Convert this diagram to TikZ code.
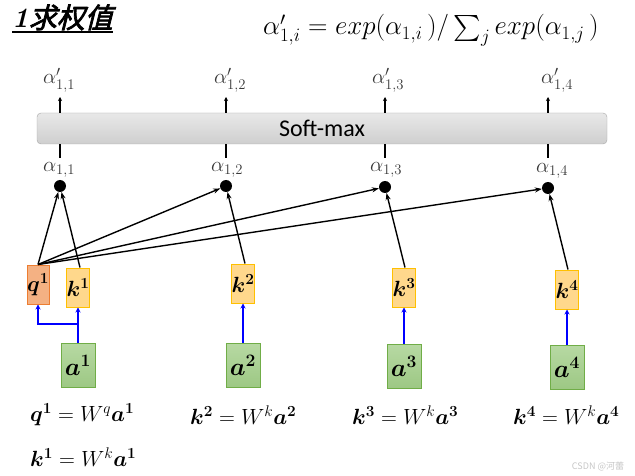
\RequirePackage{fix-cm}
\documentclass[tikz,border=0pt]{standalone}
\usepackage{amsmath}
\usepackage{bm}
\usepackage{fontspec}
\newfontfamily\cjk[FakeSlant=0.25,FakeBold=2.5]{Noto Sans CJK SC}
\newfontfamily\cjkplain{Noto Sans CJK SC}
\newfontfamily\calib{Carlito}
\usetikzlibrary{arrows.meta}
\definecolor{qfill}{HTML}{F4B183}
\definecolor{qdraw}{HTML}{ED7D31}
\definecolor{kfill}{HTML}{FFD88C}
\definecolor{kdraw}{HTML}{FFC000}
\definecolor{afilltop}{HTML}{B7D9A3}
\definecolor{afillbot}{HTML}{9DC884}
\definecolor{adraw}{HTML}{70AD47}
\definecolor{labgray}{HTML}{383838}
\newcommand{\bigsumj}{\mathop{\vcenter{\hbox{\resizebox*{!}{26pt}{$\textstyle\sum$}}}}\nolimits_j}
\begin{document}
\begin{tikzpicture}[x=1pt,y=-1pt,
  qbox/.style={draw=qdraw,fill=qfill,line width=1pt,minimum width=22pt,minimum height=39pt,inner sep=0pt,font=\fontsize{22}{22}\selectfont},
  kbox/.style={draw=kdraw,fill=kfill,line width=1pt,minimum width=21pt,minimum height=39pt,inner sep=0pt,font=\fontsize{22}{22}\selectfont},
  abox/.style={draw=adraw,top color=afilltop,bottom color=afillbot,line width=1pt,minimum width=34pt,minimum height=44pt,inner sep=0pt,font=\fontsize{25}{25}\selectfont},
  dot/.style={circle,fill=black,minimum size=12pt,inner sep=0pt},
  lab/.style={text=labgray,font=\fontsize{21}{21}\selectfont,inner sep=1pt},
  arr/.style={line width=1.4pt,-{Stealth[length=7pt,width=5pt]}},
  barr/.style={blue,line width=2.2pt,-{Stealth[length=5pt,width=5pt]}},
  sarr/.style={line width=1.2pt,-{Stealth[length=4pt,width=4pt]}},
  eq/.style={font=\fontsize{22}{22}\selectfont,anchor=west,inner sep=0pt}
]
\useasboundingbox (0,0) rectangle (635,476);

% title
\node[anchor=base west,inner sep=0pt,font=\fontsize{28}{28}\selectfont] (title) at (12,28) {\textbf{\textit{1}}\cjk 求权值};
\draw[line width=1.3pt] (title.south west |- 0,32) -- (title.south east |- 0,32);

% formula
\node[anchor=base west,inner sep=0pt,font=\fontsize{27}{27}\selectfont] (formula) at (263,35)
  {$\alpha'_{1,i}=exp(\alpha_{1,i}\,)/\bigsumj exp(\alpha_{1,j}\,)$};

% softmax bar
\node[draw=gray!70,top color=gray!18,bottom color=gray!38,rounded corners=4pt,
      minimum width=570pt,minimum height=31pt,inner sep=0pt,font=\fontsize{24}{24}\calib] (bar) at (322,128.5) {Soft-max};

% dots
\node[dot] (d1) at (60,186) {};
\node[dot] (d2) at (226,186) {};
\node[dot] (d3) at (385,187) {};
\node[dot] (d4) at (548,188) {};

% alpha labels
\node[lab] (l1) at (59,170) {$\alpha_{1,1}$};
\node[lab] (l2) at (227,170) {$\alpha_{1,2}$};
\node[lab] (l3) at (386,170) {$\alpha_{1,3}$};
\node[lab] (l4) at (552,171) {$\alpha_{1,4}$};

% top labels
\node[lab] (t1) at (59,80) {$\alpha'_{1,1}$};
\node[lab] (t2) at (230,80) {$\alpha'_{1,2}$};
\node[lab] (t3) at (388,80) {$\alpha'_{1,3}$};
\node[lab] (t4) at (557,80) {$\alpha'_{1,4}$};

\foreach \i in {1,2,3,4}{
  \draw[line width=1.2pt] (d\i |- bar.south) -- (d\i |- 0,158);
  \draw[sarr] (d\i |- bar.north) -- (d\i |- 0,97);
}

% q, k boxes
\node[qbox] (q1) at (38,284.5) {$\bm{q^1}$};
\node[kbox] (k1) at (78,287.5) {$\bm{k^1}$};
\node[kbox] (k2) at (243,283.5) {$\bm{k^2}$};
\node[kbox] (k3) at (404,287.5) {$\bm{k^3}$};
\node[kbox] (k4) at (567,289.5) {$\bm{k^4}$};

% a boxes
\node[abox] (a1) at (78,365) {$\bm{a^1}$};
\node[abox] (a2) at (243,365) {$\bm{a^2}$};
\node[abox] (a3) at (404,366) {$\bm{a^3}$};
\node[abox] (a4) at (567,367) {$\bm{a^4}$};

% blue arrows
\coordinate (br) at (78,324);
\draw[barr] (a1.north) -- (k1.south);
\draw[barr] (br) -| (q1.south);
\draw[barr] (a2.north) -- (k2.south);
\draw[barr] (a3.north) -- (k3.south);
\draw[barr] (a4.north) -- (k4.south);

% black arrows
\draw[arr] (q1.north) -- (d1);
\draw[arr] (q1.north) -- (d2);
\draw[arr] (q1.north) -- (d3);
\draw[arr] (q1.north) -- (d4);
\draw[arr] ([xshift=2pt]k1.north) -- (d1);
\draw[arr] ([xshift=2pt]k2.north) -- (d2);
\draw[arr] ([xshift=1pt]k3.north) -- (d3);
\draw[arr] ([xshift=1pt]k4.north) -- (d4);

% equations
\node[eq] (e1) at (30,415) {$\bm{q^1}=W^q\bm{a^1}$};
\node[eq] (e2) at (190,415) {$\bm{k^2}=W^k\bm{a^2}$};
\node[eq] (e3) at (352,415) {$\bm{k^3}=W^k\bm{a^3}$};
\node[eq] (e4) at (513,415) {$\bm{k^4}=W^k\bm{a^4}$};
\node[eq] (e5) at (30,457) {$\bm{k^1}=W^k\bm{a^1}$};

% watermark
\node[text=gray!45,font=\fontsize{9}{9}\cjkplain,inner sep=0pt] (wm) at (598,466) {CSDN @河蕾};
\end{tikzpicture}
\end{document}
